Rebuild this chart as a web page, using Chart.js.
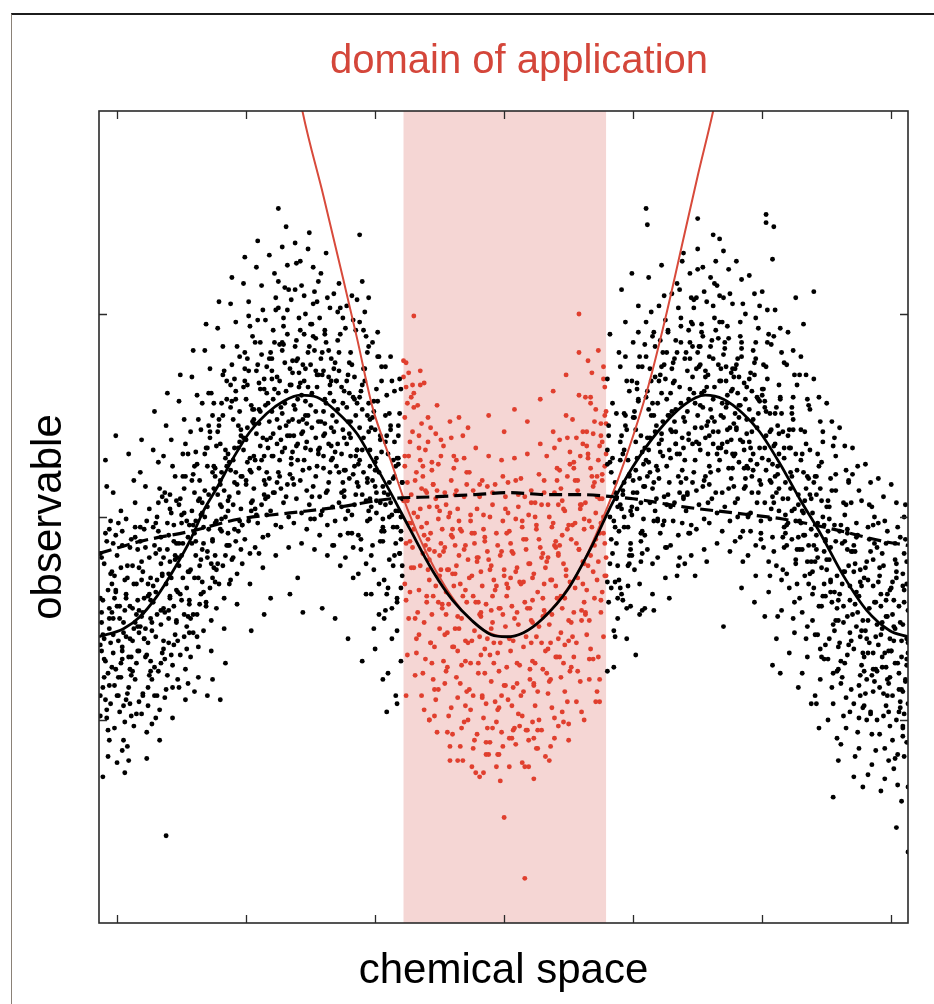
<!DOCTYPE html>
<html>
<head>
<meta charset="utf-8">
<script src="https://cdn.jsdelivr.net/npm/chart.js@4.4.1/dist/chart.umd.min.js"></script>
<style>
  html, body { margin: 0; padding: 0; background: #fff; }
  #wrap { position: relative; width: 934px; height: 1004px; overflow: hidden; }
  #frame { position: absolute; left: 11px; top: 13px; right: -10px; bottom: -10px;
           border-top: 2px solid #1c1c1c; border-left: 1.5px solid #8a8177; }
  canvas { position: absolute; left: 0; top: 0; }
</style>
</head>
<body>
<div id="wrap"><div id="frame"></div><canvas id="c" width="934" height="1004"></canvas></div>
<script>
// ---------- data (units: x ticks every 100, y ticks every 100) ----------
const xTicks = [-300, -200, -100, 0, 100, 200, 300];
const yTicks = [-100, 0, 100];
const xRange = [-314, 313];
const yRange = [-200, 200];
const bandRange = [-78, 79];

const solidCurve = [-314,-59,-295,-55,-282,-49,-269,-39,-257,-27,-243,-11,-233,3,-222,15,-210,29,-197,42,-184,51,-171,57,-158,60,-145,59,-130,52,-114,41,-102,28,-88,12,-73,-6,-55,-27,-40,-41,-25,-51,-10,-58,2,-59,15,-57,30,-50,49,-36,69,-13,84,7,100,25,119,42,139,55,156,60,170,58,185,51,198,42,214,26,229,9,245,-8,263,-29,281,-46,299,-56,313,-59];

const dashedCurve = [-314,-18,-282,-12,-243,-7,-205,-1,-166,2,-127,5,-88,9,-52,10,-24,11,5,12,33,11,61,11,84,10,100,9,139,5,178,2,216,-1,255,-6,294,-12,313,-14];

const redCurve = [-170,250,-157,202,-140,158,-125,118,-114,88,-102,54,-88,28,-75,4,-60,-18,-45,-35,-30,-48,-15,-56,2,-59,15,-57,30,-50,45,-39,60,-24,75,-3,88,18,100,40,112,65,125,98,140,140,150,168,162,200,175,240];

const blackLeft = [
-312,-20,-309,-71,-306,-45,-313,-98,-305,-2,-310,-60,-307,-118,-304,-33,-311,-84,-308,15,-306,-55,-313,-40,-305,-92,-309,-8,-312,-66,-307,-105,-304,-27,-310,-79,-306,-50,-311,-128,-308,-12,-305,-62,-313,-88,-309,28,-307,-36,-304,-74,-312,-47,-306,-110,-310,-23,-308,-95,
-302,-40,-299,-88,-296,-14,-303,-67,-295,-52,-300,-121,-297,3,-301,-75,-294,-31,-298,-96,-303,-58,-296,-7,-300,-44,-295,-110,-302,-83,-297,-25,-299,-61,-294,-126,-301,-36,-296,-70,-303,12,-298,-50,-295,-93,-300,-19,-297,-79,-302,-104,-294,-46,-299,-3,-296,-64,-301,40,
-292,-30,-289,-78,-286,-5,-293,-59,-285,-97,-290,-44,-287,18,-291,-120,-284,-66,-288,-24,-292,-87,-286,-52,-289,-11,-285,-72,-293,-38,-287,-103,-290,-60,-284,-16,-291,-84,-288,-45,-286,7,-292,-113,-285,-33,-289,-69,-287,-55,-293,-1,-290,-92,-284,-41,-288,-76,-291,31,
-282,-12,-279,-60,-276,-33,-283,-91,-275,4,-280,-47,-277,-106,-281,-22,-274,-71,-278,15,-282,-54,-276,-84,-279,-6,-275,-38,-283,-66,-277,-119,-280,-27,-274,-50,-281,-97,-278,-15,-276,-62,-282,22,-275,-78,-279,-40,-277,-2,-283,-57,-280,-87,-274,-30,-281,38,-278,-69,
-272,-5,-269,-48,-266,-23,-273,-80,-265,10,-270,-37,-267,-95,-271,-14,-264,-61,-268,27,-272,-42,-266,-72,-269,0,-265,-29,-273,-56,-267,-110,-270,-18,-264,-45,-271,-88,-268,-7,-266,-53,-272,33,-265,-67,-269,-31,-267,14,-273,-102,-270,-59,-264,-20,-271,52,-268,-76,
-262,-157,-262,8,-259,-39,-256,-12,-263,-70,-255,20,-260,-28,-257,-84,-261,-3,-254,-52,-258,38,-262,-33,-256,-63,-259,11,-255,-19,-263,-47,-257,-99,-260,-9,-254,-36,-261,-78,-258,2,-256,-44,-262,45,-255,-58,-259,-22,-257,25,-263,-89,-260,-50,-254,-13,-261,61,-258,-68,
-252,6,-249,-30,-246,-2,-253,-61,-245,31,-250,-19,-247,-75,-251,9,-244,-43,-248,48,-252,-24,-246,-54,-249,20,-245,-10,-253,-37,-247,-90,-250,1,-244,-27,-251,-68,-248,14,-246,-35,-252,57,-245,-49,-249,-13,-247,36,-253,-80,-250,-41,-244,-4,-251,70,-248,-59,
-242,18,-239,-19,-236,9,-243,-50,-235,43,-240,-8,-237,-64,-241,21,-234,-32,-238,60,-242,-13,-236,-43,-239,32,-235,1,-243,-26,-237,-79,-240,12,-234,-16,-241,-57,-238,26,-236,-24,-242,69,-235,-38,-239,-2,-237,48,-243,-69,-240,-30,-234,7,-241,82,-238,-48,-240,-86,-245,-82,
-232,31,-229,-6,-226,22,-233,-37,-225,56,-230,5,-227,-51,-231,34,-224,-19,-228,73,-232,0,-226,-30,-229,45,-225,14,-233,-13,-227,-66,-230,25,-224,-3,-231,-44,-228,39,-226,-11,-232,82,-225,-25,-229,11,-227,61,-233,-56,-230,-17,-224,20,-231,95,-228,-35,-230,-88,-226,-80,
-222,42,-219,5,-216,33,-223,-26,-215,67,-220,16,-217,-40,-221,45,-214,-8,-218,84,-222,11,-216,-19,-219,56,-215,25,-223,-2,-217,-55,-220,36,-214,8,-221,-33,-218,50,-216,0,-222,93,-215,-14,-219,22,-217,72,-223,-45,-220,-6,-214,31,-221,106,-218,-24,-216,-72,-220,-90,
-212,54,-209,17,-206,45,-213,-14,-205,79,-210,28,-207,-28,-211,57,-204,4,-208,96,-212,23,-206,-7,-209,68,-205,37,-213,10,-207,-43,-210,48,-204,20,-211,-21,-208,62,-206,12,-212,105,-205,-2,-209,34,-207,84,-213,-33,-210,6,-204,43,-211,118,-208,-12,
-202,64,-199,27,-196,55,-203,-4,-195,89,-200,38,-197,-18,-201,67,-194,14,-198,106,-202,33,-196,3,-199,78,-195,47,-203,20,-197,-33,-200,58,-194,30,-201,-11,-198,72,-196,22,-202,115,-195,8,-199,44,-197,94,-203,-23,-200,16,-194,53,-201,128,-198,-2,-196,-56,
-192,72,-189,35,-186,63,-193,4,-185,97,-190,46,-187,-10,-191,75,-184,22,-188,114,-192,41,-186,11,-189,86,-185,55,-193,28,-187,-25,-190,66,-184,38,-191,-3,-188,80,-186,30,-192,123,-185,16,-189,52,-187,102,-193,-15,-190,24,-184,61,-191,136,-188,6,-186,-48,
-182,78,-179,41,-176,69,-183,10,-175,103,-180,52,-177,-4,-181,81,-174,28,-178,120,-182,47,-176,17,-179,92,-175,61,-183,34,-177,-19,-180,72,-174,44,-181,3,-178,86,-176,36,-182,129,-175,22,-179,58,-177,108,-183,-9,-180,30,-174,67,-175,152,-178,12,-181,-40,
-172,82,-169,45,-166,73,-173,14,-165,107,-170,56,-167,0,-171,85,-164,32,-168,124,-172,51,-166,21,-169,143,-165,65,-173,38,-167,-15,-170,76,-164,48,-171,7,-168,90,-166,40,-172,133,-165,26,-169,62,-167,112,-173,-5,-170,34,-164,71,-171,98,-168,16,-166,-38,
-162,84,-159,47,-156,75,-163,16,-155,109,-160,58,-157,2,-161,87,-154,34,-158,126,-162,53,-156,23,-159,98,-155,67,-163,40,-157,-13,-160,78,-154,50,-161,9,-158,92,-156,42,-162,135,-155,28,-159,64,-157,114,-163,-3,-160,36,-154,73,-161,125,-158,18,-156,-47,-160,-30,
-152,81,-149,44,-146,72,-153,13,-145,106,-150,55,-147,-1,-151,84,-144,31,-148,123,-152,50,-146,20,-149,95,-145,64,-153,37,-147,-16,-150,75,-144,47,-151,6,-148,89,-146,39,-152,132,-145,25,-149,61,-147,111,-153,-6,-150,33,-144,70,-151,140,-148,15,
-142,78,-139,41,-136,69,-143,10,-135,103,-140,52,-137,-4,-141,81,-134,28,-138,130,-142,47,-136,17,-139,92,-135,61,-143,34,-137,-19,-140,72,-134,44,-141,3,-138,86,-136,36,-142,120,-135,22,-139,58,-137,108,-143,-9,-140,30,-134,67,-141,-45,-138,12,
-132,73,-129,36,-126,64,-133,5,-125,98,-130,47,-127,-9,-131,76,-124,23,-128,115,-132,42,-126,12,-129,87,-125,56,-133,29,-127,-24,-130,67,-124,39,-131,-2,-128,81,-126,31,-132,110,-125,17,-129,53,-127,103,-133,-14,-130,25,-124,62,-131,-50,-128,7,
-122,67,-119,30,-116,58,-123,-1,-115,92,-120,41,-117,-15,-121,70,-114,17,-118,109,-122,36,-116,6,-119,81,-115,50,-123,23,-117,-30,-120,61,-114,33,-121,-8,-118,75,-116,25,-122,104,-115,11,-119,47,-117,97,-123,-20,-120,19,-114,56,-121,-60,-118,1,
-112,139,-110,116,-105,108,-112,59,-109,22,-106,50,-113,-9,-105,84,-110,33,-107,-23,-111,62,-104,9,-108,101,-112,28,-106,-2,-109,73,-105,42,-113,15,-107,-38,-110,53,-104,25,-111,-16,-108,67,-106,17,-112,96,-105,3,-109,39,-107,89,-113,-28,-110,-71,-104,48,
-102,49,-99,12,-96,40,-103,-19,-95,74,-100,23,-97,-33,-101,52,-94,-1,-98,91,-102,18,-96,-12,-99,63,-95,32,-103,5,-97,-48,-100,43,-94,15,-101,-26,-98,57,-96,7,-102,86,-95,-7,-99,29,-97,79,-103,-38,-100,-65,-94,-80,-101,-55,
-92,37,-89,0,-86,28,-93,-31,-85,62,-90,11,-87,-45,-91,40,-84,-13,-88,79,-92,6,-86,-24,-89,51,-85,20,-93,-7,-87,-60,-90,31,-84,3,-91,-38,-88,45,-86,-5,-92,74,-85,-19,-89,17,-87,67,-93,-50,-90,-77,-84,-88,-91,-96,
-82,26,-80,-11,-79,17,-83,-42,-81,51,-80,0,-83,-56,-82,29,-79,-24,-81,68,-83,-5,-80,-35,-82,40,-79,9,-81,-18,-80,-71,-83,-92
];

const blackLeftCore = [
-311,-41,-307,-77,-313,-63,-305,-28,-309,-90,-312,-52,-306,-6,-310,-70,-304,-47,-308,-99,-313,-18,-306,-83,-311,-58,
-301,-37,-297,-72,-303,-13,-295,-57,-300,-88,-302,-29,-296,-66,-298,-44,-294,-101,-301,-9,-299,-79,-303,-50,-296,-115,
-291,-69,-287,-33,-293,-90,-285,-48,-290,-15,-288,-61,-286,-80,-292,-24,-284,-54,-289,-98,-293,-40,-286,-10,-290,-75,
-281,-31,-277,-68,-283,-46,-275,-20,-280,-88,-278,-55,-282,-5,-276,-39,-274,-76,-279,-60,-283,-25,-276,-93,-281,-49,
-266,-46,-270,-3,-264,-65,-272,-34,-269,-88,-267,-16,-273,-52,-268,7,-271,-74,-265,-28,-274,-41,-266,-10,-270,-99,
-263,12,-259,-40,-257,-73,-261,-16,-254,-51,-264,30,-258,-30,-260,-62,-256,-4,-262,-85,-255,-21,-259,4,-260,-46,
-248,-48,-252,-13,-254,8,-246,-65,-250,-3,-245,-27,-247,20,-251,-38,-249,31,-244,-57,-253,-20,-248,2,-252,-84,
-241,-4,-237,-30,-243,42,-235,-21,-240,25,-238,-59,-242,3,-236,18,-239,-12,-244,-41,-234,56,-241,-48,-237,8,
-226,-12,-230,34,-224,-32,-232,13,-229,61,-227,-23,-233,-5,-228,42,-231,-42,-225,25,-234,2,-226,50,-230,-20,
-223,35,-219,-1,-217,13,-221,48,-214,-14,-224,24,-218,70,-220,6,-216,29,-222,-23,-215,58,-219,-7,-220,18,
-208,22,-212,65,-214,3,-206,34,-210,-20,-205,52,-207,16,-211,75,-209,-6,-204,40,-213,27,-208,58,-212,-31,
-201,81,-197,29,-203,-4,-195,53,-200,18,-198,99,-202,39,-196,7,-199,65,-204,-16,-194,48,-201,73,-197,23,
-186,18,-190,53,-184,74,-192,1,-189,63,-187,39,-193,86,-188,28,-191,97,-185,9,-194,46,-186,68,-190,-18,
-183,56,-179,30,-177,102,-181,39,-174,85,-184,1,-178,63,-180,78,-176,48,-182,19,-175,116,-179,12,-180,68,
-168,40,-172,86,-174,20,-166,65,-170,113,-165,29,-167,47,-171,94,-169,10,-164,77,-173,54,-168,102,-172,32,
-161,77,-157,41,-163,55,-155,90,-160,28,-158,66,-162,112,-156,48,-159,71,-164,19,-154,100,-161,35,-157,60,
-146,52,-150,95,-144,33,-152,64,-149,10,-147,82,-153,46,-148,105,-151,24,-145,70,-154,57,-146,88,-150,-1,
-143,98,-139,46,-137,13,-141,70,-134,35,-144,116,-138,56,-140,24,-136,82,-142,1,-135,65,-139,90,-140,40,
-128,22,-132,57,-134,78,-126,5,-130,67,-125,43,-127,90,-131,32,-129,101,-124,13,-133,50,-128,72,-132,-14,
-121,47,-117,21,-123,93,-115,30,-120,76,-118,-8,-122,54,-116,69,-119,39,-124,10,-114,107,-121,3,-117,59,
-106,19,-110,65,-104,-1,-112,44,-109,92,-107,8,-113,26,-108,73,-111,-11,-105,56,-114,33,-106,81,-110,11,
-103,44,-99,8,-97,22,-101,57,-94,-5,-104,33,-98,79,-100,15,-96,38,-102,-14,-95,67,-99,2,-100,27,
-88,7,-92,50,-94,-12,-86,19,-90,-35,-85,37,-87,1,-91,60,-89,-21,-84,25,-93,12,-88,43,-92,-46,
-82,45,-80,-7,-83,-40,-79,17,-81,-18,-80,63,-82,3,-79,-29,-83,29
];

const blackRight = [
80,26,83,-11,86,17,81,-42,87,51,82,0,85,-56,84,29,88,-24,80,68,86,-5,83,-35,81,40,87,9,84,-18,85,-74,80,-76,88,-50,82,90,86,-32,
90,37,93,0,96,28,89,-31,97,62,92,11,95,-45,91,40,98,-13,94,79,90,6,96,-24,93,51,97,20,89,-7,95,-60,92,31,98,3,91,-38,94,45,96,-5,90,74,97,-19,93,17,95,67,92,-41,90,-35,98,-44,94,96,91,112,
100,49,103,12,106,40,99,-19,107,74,102,23,105,-33,101,52,108,-1,104,91,100,18,106,-12,103,63,107,32,99,5,105,-48,102,43,108,15,101,-26,104,57,106,7,100,86,107,-7,103,29,105,79,102,-68,107,-46,104,104,99,120,106,-22,
110,152,111,144,110,59,113,22,116,50,109,-9,117,84,112,33,115,-23,111,62,118,9,114,101,110,28,116,-2,113,73,117,42,109,15,115,-38,112,53,118,25,111,-16,114,67,116,17,110,96,117,3,113,39,115,89,109,-45,116,-46,112,118,
120,67,123,30,126,58,119,-1,127,92,122,41,125,-15,121,70,128,17,124,109,120,36,126,6,123,81,127,50,119,23,125,-30,122,61,128,33,121,-8,124,75,126,25,120,104,127,11,123,47,125,97,119,-20,122,124,128,-40,124,-2,121,87,
130,73,133,36,136,64,129,5,137,98,132,47,135,-9,131,76,138,23,134,115,130,42,136,12,133,87,137,56,129,29,135,-24,132,67,138,39,131,-2,134,81,136,31,130,110,137,17,133,53,135,103,134,-29,129,-14,138,126,132,7,136,-20,
140,78,143,41,146,69,139,10,147,103,142,52,145,-4,141,81,148,28,144,120,140,47,146,17,143,92,147,61,139,34,145,-19,142,72,148,44,141,3,144,86,146,36,140,-23,147,22,143,58,145,108,148,-29,139,130,142,12,146,95,144,-8,
150,147,150,81,153,44,156,72,149,13,157,106,152,55,155,-1,151,84,158,31,154,123,150,50,156,20,153,95,157,64,149,37,155,-16,152,75,158,47,151,6,154,89,156,39,150,132,157,-22,153,61,155,111,149,-6,152,33,158,70,154,15,
162,139,167,137,160,84,163,47,166,75,159,16,167,109,162,58,165,2,161,87,168,34,164,126,160,53,166,23,163,98,167,67,159,40,165,-13,162,78,168,50,161,9,164,92,166,42,160,118,167,28,163,64,165,114,159,-3,162,36,168,73,
170,-54,170,80,173,43,176,71,169,12,177,105,172,54,175,-2,171,83,178,30,174,122,170,49,176,19,173,94,177,63,169,36,175,-17,172,74,178,46,171,5,174,88,176,38,170,131,177,24,173,60,175,110,169,-7,172,32,178,69,174,14,
180,75,183,38,186,66,179,7,187,100,182,49,185,-7,181,78,188,25,184,117,180,44,186,14,183,89,187,58,179,31,185,-22,182,69,188,41,181,0,184,83,186,33,180,126,187,19,183,55,185,105,179,-12,182,27,188,64,184,-35,181,9,
190,68,193,31,196,59,189,0,197,93,192,42,195,-14,191,71,198,18,194,110,190,37,196,7,193,82,197,51,189,24,195,-29,192,62,198,34,191,-7,194,-42,196,26,190,119,197,12,193,48,195,98,189,-19,192,20,198,57,194,76,191,2,
203,149,203,145,200,60,203,23,206,51,199,-8,207,85,202,34,205,-22,201,63,208,10,204,102,200,29,206,-1,203,74,207,43,199,16,205,-37,202,54,208,26,201,-15,204,68,206,18,200,111,207,4,203,40,205,90,208,-73,202,-49,
209,143,208,127,212,-49,210,51,213,14,216,42,209,-17,217,76,212,25,215,-31,211,54,218,1,214,93,210,20,216,-10,213,65,217,34,209,7,215,-46,212,45,218,17,211,-24,214,59,216,9,210,102,217,-5,213,31,215,81,211,-60,214,-77,
226,108,220,40,223,3,226,31,219,-28,227,65,222,14,225,-42,221,43,228,-10,224,82,220,9,226,-21,223,54,227,23,219,-4,225,-57,222,34,228,6,221,-35,224,48,226,-2,220,91,227,-16,223,20,225,70,221,-67,228,-84,224,-50,
230,28,233,-9,236,19,229,-40,237,53,232,2,235,-54,231,31,238,-22,234,70,230,-3,236,-33,233,42,237,11,229,-16,235,-69,232,22,238,-6,231,-47,234,36,236,-14,230,79,237,-28,233,8,235,58,231,-77,238,-92,234,-60,232,95,
240,111,242,-92,240,17,243,-20,246,8,239,-51,247,42,242,-9,245,-65,241,20,248,-33,244,59,240,-14,246,-44,243,31,247,0,239,-27,245,-80,242,11,248,-17,241,-58,244,25,246,-25,240,68,247,-39,243,-3,245,47,241,-88,248,-70,244,-104,
250,5,253,-32,256,-4,249,-63,257,30,252,-21,255,-77,251,8,258,-45,254,47,250,-26,256,-56,253,19,257,-12,249,-39,255,-92,252,-1,258,-29,251,-70,254,13,256,-37,250,56,257,-51,253,-15,255,35,251,-100,258,-109,254,-84,255,-138,252,-60,
260,-7,263,-44,266,-16,259,-75,267,18,262,-33,265,-89,261,-4,268,-57,264,35,260,-38,266,-68,263,7,267,-24,259,-51,265,-104,262,-13,268,-41,261,-82,264,1,266,-49,260,44,267,-63,263,-27,265,23,261,-112,268,-96,264,-72,259,-120,266,-8,
270,-17,273,-54,276,-26,269,-85,277,8,272,-43,275,-99,271,-14,278,-67,274,25,270,-48,276,-78,273,-3,277,-34,269,-61,275,-114,272,-23,278,-51,271,-92,274,-9,276,-59,270,34,277,-73,273,-37,275,13,272,-118,278,-133,274,-106,271,-128,276,-88,
280,-25,283,-62,286,-34,279,-93,287,0,282,-51,285,-107,281,-22,288,-75,284,17,280,-56,286,-86,283,-11,287,-42,279,-69,285,-122,282,-31,288,-59,281,-100,284,-17,286,-67,280,26,287,-81,283,-45,285,5,282,-127,288,-115,284,-96,281,-80,286,-4,
290,-32,293,-69,296,-41,289,-100,297,-7,292,-58,295,-114,291,-29,298,-82,294,10,290,-63,296,-93,293,-18,297,-49,289,-76,295,-129,292,-38,298,-66,291,-107,294,-24,296,-74,290,19,297,-88,293,-52,295,-2,292,-135,298,-120,294,-98,291,-84,296,-13,
304,-153,300,-35,303,-72,306,-44,299,-103,307,-10,302,-61,305,-117,301,-32,308,-85,304,7,300,-66,306,-96,303,-21,307,-52,299,-79,305,-132,302,-41,308,-69,301,-110,304,-27,306,-77,300,16,307,-91,303,-55,305,-5,302,-124,308,-140,304,-100,301,-88,
313,-165,310,-36,312,-73,309,-104,311,-11,313,-62,310,-118,312,-33,309,-86,311,6,313,-67,310,-97,312,-22,309,-53,311,-80,313,-133,310,-42,312,-111,309,-28
];

const blackRightCore = [
82,-23,86,12,80,33,88,-40,83,22,85,-2,81,45,87,-13,84,56,80,-32,88,5,82,27,86,-59,
97,21,93,-5,99,67,91,4,94,50,96,-34,90,28,95,43,92,13,98,-16,89,81,97,-23,93,33,
100,12,104,58,106,-8,102,37,109,85,99,1,105,19,103,66,107,-18,101,49,108,26,104,74,103,4,
115,56,111,20,109,34,117,69,113,7,118,45,116,91,112,27,114,50,119,-2,110,79,115,14,111,39,
122,38,126,81,120,19,128,50,123,-4,125,68,121,32,127,91,124,10,119,56,129,43,122,74,126,-15,
137,94,133,42,139,9,131,66,134,31,136,112,130,52,135,20,132,78,138,-3,129,61,137,86,133,36,
140,28,144,63,146,84,142,11,149,73,139,49,145,96,143,38,147,107,141,19,148,56,144,78,143,-8,
155,62,151,36,149,108,157,45,153,91,158,7,156,69,152,84,154,54,159,25,150,122,155,18,151,74,
162,42,166,88,160,22,168,67,163,115,165,31,161,49,167,96,164,12,159,79,169,56,162,104,166,34,
177,73,173,37,179,51,171,86,174,24,176,62,170,108,175,44,172,67,178,15,169,96,177,31,173,56,
180,43,184,86,186,24,182,55,189,1,179,73,185,37,183,96,187,15,181,61,188,48,184,79,183,-10,
195,86,191,34,189,1,197,58,193,23,198,104,196,44,192,12,194,70,199,-11,190,53,195,78,191,28,
202,7,206,42,200,63,208,-10,203,52,205,28,201,75,207,17,204,86,199,-2,209,35,202,57,206,-29,
217,29,213,3,219,75,211,12,214,58,216,-26,210,36,215,51,212,21,218,-8,209,89,217,-15,213,41,
220,-3,224,43,226,-23,222,22,229,70,219,-14,225,4,223,51,227,-33,221,34,228,11,224,59,223,-11,
235,20,231,-16,229,-2,237,33,233,-29,238,9,236,55,232,-9,234,14,239,-38,230,43,235,-22,231,3,
242,-16,246,27,240,-35,248,-4,243,-58,245,14,241,-22,247,37,244,-44,239,2,249,-11,242,20,246,-69,
257,21,253,-31,259,-64,251,-7,254,-42,256,39,250,-21,255,-53,252,5,258,-76,249,-12,257,13,253,-37,
260,-62,264,-27,266,-6,262,-79,269,-17,259,-41,265,6,263,-52,267,17,261,-71,268,-34,264,-12,263,-98,
275,-39,271,-65,269,7,277,-56,273,-10,278,-94,276,-32,272,-17,274,-47,279,-76,270,21,275,-83,271,-27,
282,-67,286,-21,280,-87,288,-42,283,6,285,-78,281,-60,287,-13,284,-97,279,-30,289,-53,282,-5,286,-75,
297,-38,293,-74,299,-60,291,-25,294,-87,296,-49,290,-3,295,-67,292,-44,298,-96,289,-15,297,-80,293,-55,
300,-66,304,-23,306,-85,302,-54,309,-108,299,-36,305,-72,303,-13,307,-94,301,-48,308,-61,304,-30,303,-119,
310,-18,312,-70,309,-103,313,-46,311,-81,310,0,312,-60,313,-92,309,-34
];

const redBand = [
-70,99,-78,77,-76,76,-74,71,-78,69,-65,65,-76,64,-70,61,-72,59,-75,56,-70,54,-77,30,-73,-12,-69,18,-76,-41,-71,42,-74,-3,-68,-60,-77,25,-72,-25,-75,8,-69,-78,-73,37,-71,-15,-76,-88,-70,2,-74,-50,-68,22,-77,-33,-72,11,-75,-68,-70,-6,
-66,40,-63,-18,-60,12,-67,-47,-59,49,-64,-5,-61,-70,-65,28,-58,-31,-62,66,-67,0,-60,-42,-63,20,-59,-11,-66,-58,-61,33,-64,-88,-58,5,-65,-24,-62,-95,-67,55,-60,-3,-63,-77,-59,37,-66,-36,-61,-14,-64,14,-58,-100,-62,-52,-65,72,
-56,23,-53,-34,-50,3,-57,-62,-49,38,-54,-17,-51,-85,-55,16,-48,-45,-52,55,-57,-8,-50,-55,-53,9,-49,-26,-56,-72,-51,26,-54,-98,-48,-6,-55,-39,-52,-106,-57,44,-50,-19,-53,-90,-49,30,-56,-48,-51,-1,-54,-64,-58,-100,-52,13,-55,-80,
-46,12,-43,-43,-40,-6,-47,-71,-39,30,-44,-26,-41,-94,-45,6,-38,-55,-42,47,-47,-17,-40,-64,-43,0,-39,-34,-46,-82,-41,18,-44,-106,-38,-14,-45,-48,-42,-113,-47,35,-40,-28,-43,-98,-39,24,-46,-58,-41,-9,-44,-74,-40,-107,-42,-120,-45,-37,
-36,4,-33,-50,-30,-14,-37,-79,-29,22,-34,-33,-31,-101,-35,-2,-28,-62,-32,40,-37,-24,-30,-71,-33,-7,-29,-42,-36,-89,-31,10,-34,-113,-28,-21,-35,-55,-32,-120,-37,28,-30,-36,-33,-104,-29,16,-36,-66,-31,-16,-34,-82,-36,-120,-30,-93,-35,49,
-26,-2,-23,-56,-20,-20,-27,-85,-19,16,-24,-39,-21,-107,-25,-8,-18,-68,-22,34,-27,-30,-20,-77,-23,-13,-19,-48,-26,-95,-21,4,-24,-114,-18,-27,-25,-61,-22,-126,-27,22,-20,-42,-23,-110,-19,10,-26,-72,-21,-22,-24,-88,-25,-123,-19,-128,-28,44,
-16,-6,-13,-60,-10,-24,-17,-89,-9,12,-14,-43,-11,-111,-15,-12,-8,-72,-12,30,-17,-34,-10,-81,-13,-17,-9,-52,-16,-99,-11,0,-14,-117,-8,-31,-15,-65,-12,-117,-17,18,-10,-46,-13,-104,-9,6,-16,-126,-11,-26,-14,-92,-12,50,-9,-104,-15,-77,
-6,-8,-3,-62,0,-26,-7,-91,1,10,-4,-45,-1,-113,-5,-14,2,-74,-2,28,-7,-36,0,-83,-3,-19,1,-54,-6,-101,-1,-2,-4,-117,2,-33,-5,-67,-3,-130,-7,16,0,-148,-2,-106,1,4,-6,-123,-1,-48,-4,-94,0,42,-5,-117,-2,-88,
4,-7,7,-61,10,-25,3,-90,11,11,6,-44,9,-112,5,-13,12,-73,8,29,3,-35,10,-82,7,-18,11,-53,4,-123,9,-1,6,-109,12,-32,5,-66,8,-104,3,17,10,-47,7,-105,11,5,4,-109,9,-27,6,-93,8,53,
16,-178,14,-5,17,-59,20,-23,13,-88,21,13,16,-42,19,-110,15,-11,22,-71,18,31,13,-33,20,-80,17,-16,21,-51,14,-98,19,1,16,-123,22,-30,15,-64,18,-105,13,19,20,-45,17,-105,21,7,14,-121,19,-123,22,-101,18,47,15,-86,
24,0,27,-54,30,-18,23,-83,31,18,26,-37,29,-105,25,-6,32,-66,28,36,23,-28,30,-75,27,-11,31,-46,24,-93,29,6,26,-114,32,-25,25,-59,23,-129,23,-109,30,-40,27,-100,31,12,25,-114,29,-20,26,-86,28,58,32,-118,24,-72,
34,6,37,-48,40,-12,33,-77,41,24,36,-31,39,-99,35,0,42,-60,38,42,33,-22,40,-69,37,-5,41,-40,34,-87,39,12,36,-113,42,-19,35,-53,39,-109,33,30,40,-34,37,-94,41,18,34,-65,39,-14,36,-80,38,62,42,-103,35,-120,
44,14,47,-40,50,-4,43,-69,51,32,46,-23,49,-91,45,8,52,-52,48,50,43,-14,50,-61,47,3,51,-32,44,-79,49,20,46,-101,52,-11,45,-45,50,-102,43,38,48,-26,47,-86,51,26,44,-57,49,-6,46,-72,48,70,50,-110,45,-96,
58,100,58,81,54,24,57,-30,60,6,53,-59,61,42,56,-13,59,-81,55,18,62,-42,58,60,53,-4,60,-51,57,13,61,-22,54,-69,59,30,56,-91,62,-1,55,-35,62,-100,53,48,58,-16,57,-76,61,36,54,-47,59,4,56,-62,60,-96,
67,59,64,35,67,-19,70,17,63,-48,71,53,66,-2,69,-70,65,29,72,-31,68,71,63,7,70,-40,67,24,71,-11,64,-58,69,41,66,-80,72,10,65,-24,71,-91,63,59,68,-5,67,-65,70,47,64,-36,69,15,66,-51,72,-86,65,77,
78,50,74,-91,75,46,77,-8,73,28,76,-37,78,64,74,9,77,-59,75,40,79,-20,73,82,76,18,78,-29,74,35,77,0,75,-47,79,52,73,-69,76,21,78,-13,74,-80,77,68,75,-3,79,31
];

const redBandCore = [
-75,17,-70,-25,-77,49,-72,-3,-69,-50,-74,30,-76,-13,-71,65,-73,-37,-78,8,
-59,-26,-66,34,-62,-9,-68,-67,-61,13,-64,46,-60,-39,-65,4,-58,-16,-63,25,
-55,16,-50,-29,-57,-62,-52,5,-49,-13,-54,-85,-56,27,-51,-42,-53,41,-58,-21,
-39,-64,-46,-15,-42,2,-48,-43,-41,39,-44,-57,-40,-10,-45,-76,-38,11,-43,-26,
-35,-19,-30,-61,-37,13,-32,-39,-29,-86,-34,-6,-36,-49,-31,29,-33,-73,-38,-28,
-19,-59,-26,1,-22,-42,-28,-100,-21,-20,-24,13,-20,-72,-25,-29,-18,-49,-23,-8,
-15,-10,-10,-55,-17,-88,-12,-21,-9,-39,-14,-111,-16,1,-11,-68,-13,15,-18,-47,
1,-83,-6,-34,-2,-17,-8,-62,-1,20,-4,-76,0,-29,-5,-95,2,-8,-3,-45,
5,-30,10,-72,3,2,8,-50,11,-97,6,-17,4,-60,9,18,7,-84,2,-39,
21,-62,14,-2,18,-45,12,-103,19,-23,16,10,20,-75,15,-32,22,-52,17,-11,
25,-4,30,-49,23,-82,28,-15,31,-33,26,-105,24,7,29,-62,27,21,22,-41,
41,-69,34,-20,38,-3,32,-48,39,34,36,-62,40,-15,35,-81,42,6,37,-31,
45,-9,50,-51,43,23,48,-29,51,-76,46,4,44,-39,49,39,47,-63,42,-18,
61,-33,54,27,58,-16,52,-74,59,6,56,39,60,-46,55,-3,62,-23,57,18,
65,31,70,-14,63,-47,68,20,71,2,66,-70,64,42,69,-27,67,56,62,-6,
79,-29,72,20,76,37,74,-8,77,74,73,-22,78,25,75,-41,79,46,76,9
];

// ---------- styles ----------
const RED_TEXT = '#d4463a';
const RED_DOT = '#e03f2e';
const BAND_COLOR = '#f5d6d4';
const FONT = "'Liberation Sans', Arial, sans-serif";

function toPts(flat) {
  const out = [];
  for (let i = 0; i + 1 < flat.length; i += 2) out.push({ x: flat[i], y: flat[i + 1] });
  return out;
}

const bandPlugin = {
  id: 'band',
  beforeDatasetsDraw(chart) {
    const { ctx, chartArea, scales } = chart;
    const x0 = scales.x.getPixelForValue(bandRange[0]);
    const x1 = scales.x.getPixelForValue(bandRange[1]);
    ctx.save();
    ctx.fillStyle = BAND_COLOR;
    ctx.fillRect(x0, chartArea.top, x1 - x0, chartArea.bottom - chartArea.top);
    ctx.restore();
  }
};

const framePlugin = {
  id: 'frameTicks',
  afterDatasetsDraw(chart) {
    const { ctx, chartArea: a, scales } = chart;
    ctx.save();
    ctx.strokeStyle = '#2a2a2a';
    ctx.lineWidth = 1.6;
    ctx.strokeRect(a.left, a.top, a.right - a.left, a.bottom - a.top);
    ctx.lineWidth = 1.3;
    const L = 8;
    ctx.beginPath();
    xTicks.forEach(v => {
      const px = Math.round(scales.x.getPixelForValue(v)) + 0.5;
      ctx.moveTo(px, a.bottom); ctx.lineTo(px, a.bottom - L);
      ctx.moveTo(px, a.top); ctx.lineTo(px, a.top + L);
    });
    yTicks.forEach(v => {
      const py = Math.round(scales.y.getPixelForValue(v)) + 0.5;
      ctx.moveTo(a.left, py); ctx.lineTo(a.left + L, py);
      ctx.moveTo(a.right, py); ctx.lineTo(a.right - L, py);
    });
    ctx.stroke();
    ctx.restore();
  }
};

const titleShift = {
  id: 'titleShift',
  afterLayout(chart) {
    const t = chart.titleBlock;
    if (t) { t.left += 65; t.right += 65; }
  }
};

Chart.defaults.font.family = FONT;

const dotStyle = { pointRadius: 2.45, pointBorderWidth: 0 };

new Chart(document.getElementById('c').getContext('2d'), {
  type: 'scatter',
  data: {
    datasets: [
      { label: 'dashed fit', data: toPts(dashedCurve), showLine: true, borderColor: '#000', borderWidth: 3.2,
        borderDash: [13, 6], pointRadius: 0, cubicInterpolationMode: 'monotone', order: 1 },
      { label: 'model', data: toPts(solidCurve), showLine: true, borderColor: '#000', borderWidth: 2.8,
        pointRadius: 0, cubicInterpolationMode: 'monotone', order: 2 },
      { label: 'local fit', data: toPts(redCurve), showLine: true, borderColor: '#d84a3b', borderWidth: 2,
        pointRadius: 0, cubicInterpolationMode: 'monotone', order: 3 },
      { label: 'black left', data: toPts(blackLeft.concat(blackLeftCore)), ...dotStyle,
        backgroundColor: '#000', borderColor: '#000', order: 4 },
      { label: 'black right', data: toPts(blackRight.concat(blackRightCore)), ...dotStyle,
        backgroundColor: '#000', borderColor: '#000', order: 4 },
      { label: 'in domain', data: toPts(redBand.concat(redBandCore)), ...dotStyle,
        backgroundColor: RED_DOT, borderColor: RED_DOT, order: 5 }
    ]
  },
  options: {
    responsive: false,
    animation: false,
    events: [],
    layout: { padding: { left: 0, right: 26, top: 0, bottom: 0 } },
    plugins: {
      legend: { display: false },
      tooltip: { enabled: false },
      title: {
        display: true, text: 'domain of application', color: RED_TEXT,
        font: { family: FONT, size: 40, weight: 'normal' },
        padding: { top: 38, bottom: 25 }
      }
    },
    scales: {
      x: {
        type: 'linear', min: xRange[0], max: xRange[1],
        grid: { display: false }, border: { display: false },
        ticks: { display: false },
        title: { display: true, text: 'chemical space', color: '#000',
                 font: { family: FONT, size: 42, weight: 'normal' }, padding: { top: 0, bottom: 7 } },
        afterFit(s) { s.height = 81; }
      },
      y: {
        type: 'linear', min: yRange[0], max: yRange[1],
        grid: { display: false }, border: { display: false },
        ticks: { display: false },
        title: { display: true, text: 'observable', color: '#000',
                 font: { family: FONT, size: 42, weight: 'normal' }, padding: { top: 24, bottom: 0 } },
        afterFit(s) { s.width = 99; }
      }
    }
  },
  plugins: [bandPlugin, framePlugin, titleShift]
});
</script>
</body>
</html>
